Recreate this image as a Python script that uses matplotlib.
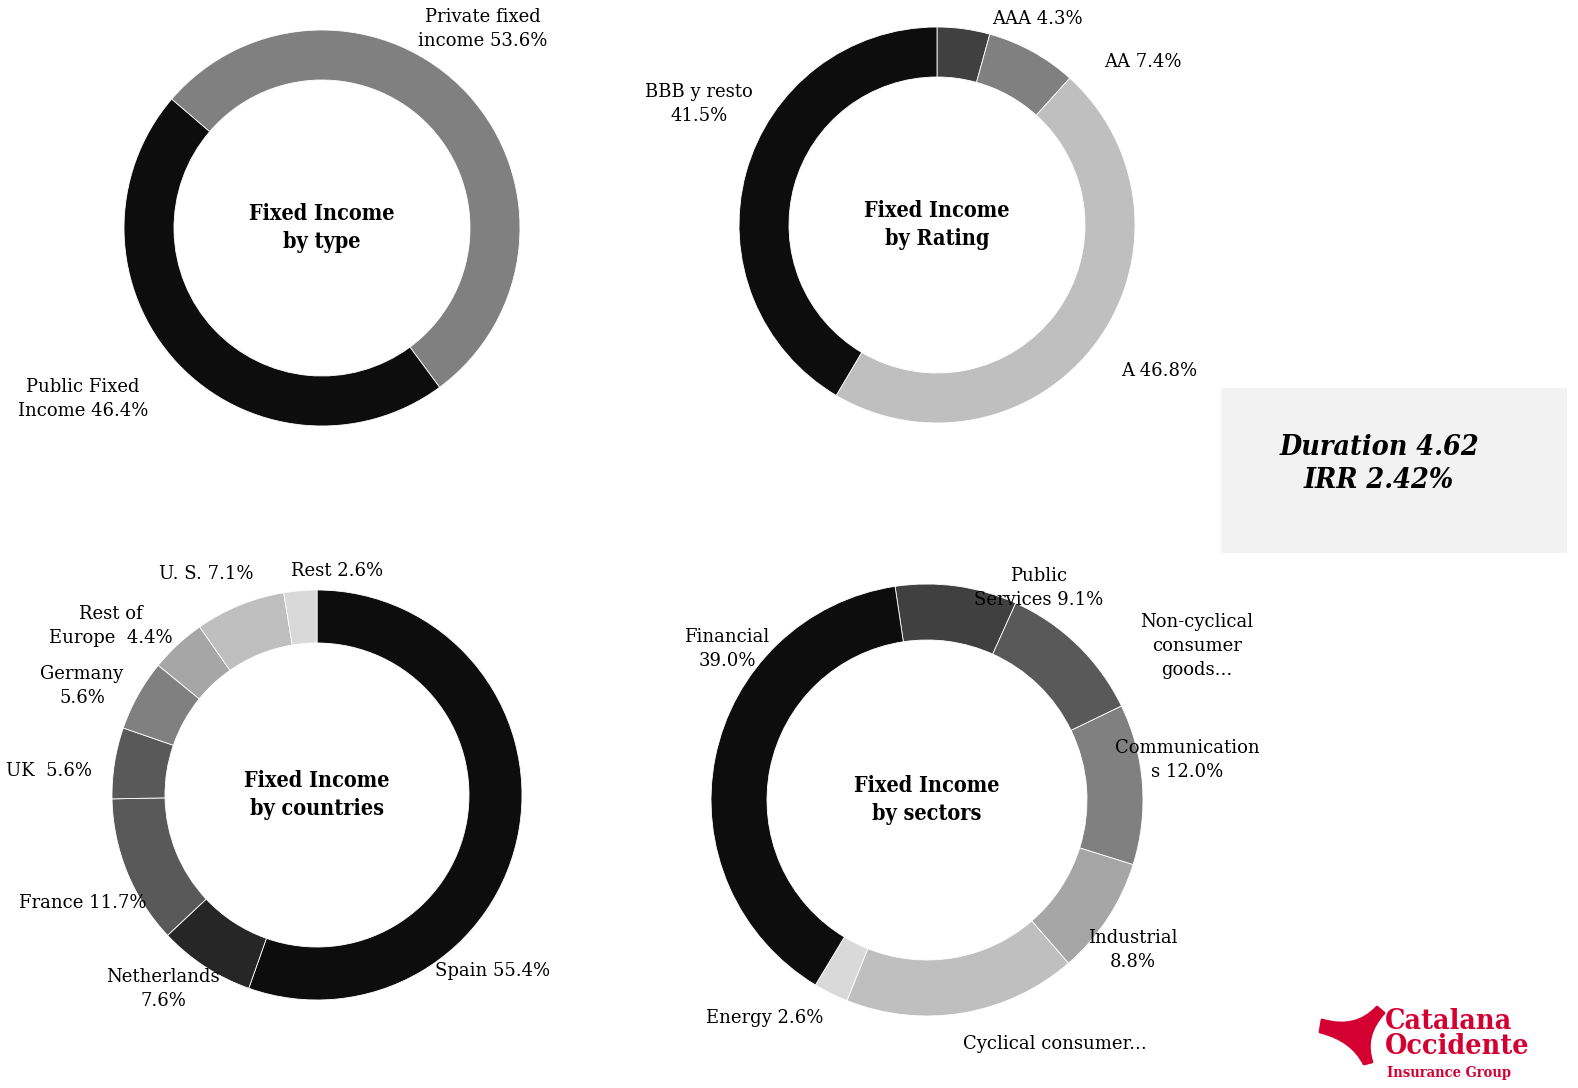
import matplotlib
matplotlib.use("Agg")
import matplotlib.pyplot as plt
from matplotlib.path import Path
from matplotlib.patches import PathPatch, Rectangle

# --- data -------------------------------------------------------------
type_labels = ["Private fixed\nincome 53.6%", "Public Fixed\nIncome 46.4%"]
type_values = [53.6, 46.4]
type_colors = ["#808080", "#0d0d0d"]

rating_labels = ["AAA 4.3%", "AA 7.4%", "A 46.8%", "BBB y resto\n41.5%"]
rating_values = [4.3, 7.4, 46.8, 41.5]
rating_colors = ["#404040", "#808080", "#bfbfbf", "#0d0d0d"]

country_labels = ["Spain 55.4%", "Netherlands\n7.6%", "France 11.7%", "UK  5.6%",
                  "Germany\n5.6%", "Rest of\nEurope  4.4%", "U. S. 7.1%", "Rest 2.6%"]
country_values = [55.4, 7.6, 11.7, 5.6, 5.6, 4.4, 7.1, 2.6]
country_colors = ["#0d0d0d", "#262626", "#595959", "#595959",
                  "#808080", "#a6a6a6", "#bfbfbf", "#d9d9d9"]

sector_labels = ["Public\nServices 9.1%", "Non-cyclical\nconsumer\ngoods...",
                 "Communication\ns 12.0%", "Industrial\n8.8%", "Cyclical consumer...",
                 "Energy 2.6%", "Financial\n39.0%"]
sector_values = [9.1, 11.1, 12.0, 8.8, 17.4, 2.6, 39.0]
sector_colors = ["#404040", "#595959", "#808080", "#a6a6a6", "#bfbfbf",
                 "#d9d9d9", "#0d0d0d"]

duration = 4.62
irr = 2.42

# --- layout (pixel coords, y from top) ---------------------------------
W, H = 1578, 1088
def Y(y):
    return H - y

serif = "DejaVu Serif"
red = "#d50032"

fig = plt.figure(figsize=(W / 100, H / 100), dpi=100)
ax = fig.add_axes([0, 0, 1, 1])

def donut(values, colors, cx, cy, r, w, start, title, labels, label_pos):
    ax.pie(values, colors=colors, startangle=start, counterclock=False,
           radius=r, center=(cx, Y(cy)),
           wedgeprops=dict(width=w, edgecolor="white", linewidth=0.6))
    ax.text(cx, Y(cy), title, ha="center", va="center", family=serif,
            fontstretch="condensed", fontweight="bold", fontsize=15.5,
            linespacing=1.3)
    for lab, (x, y) in zip(labels, label_pos):
        ax.text(x, Y(y), lab, ha="center", va="center", family=serif,
                fontsize=13, linespacing=1.45)

donut(type_values, type_colors, 322, 228, 198, 50, 139.4,
      "Fixed Income\nby type", type_labels,
      [(483, 29), (83, 399)])

donut(rating_values, rating_colors, 937, 225, 198, 50, 90,
      "Fixed Income\nby Rating", rating_labels,
      [(1037, 19), (1143, 62), (1159, 371), (699, 104)])

donut(country_values, country_colors, 317, 795, 205, 53, 90,
      "Fixed Income\nby countries", country_labels,
      [(493, 971), (163, 989), (83, 903), (49, 771),
       (82, 686), (111, 626), (206, 574), (337, 571)])

donut(sector_values, sector_colors, 927, 800, 216, 56, 98.5,
      "Fixed Income\nby sectors", sector_labels,
      [(1039, 588), (1197, 646), (1187, 760), (1133, 950),
       (1055, 1044), (765, 1018), (727, 649)])

# duration / IRR box
ax.add_patch(Rectangle((1221, Y(553)), 346, 165, facecolor="#f2f2f2",
                       edgecolor="none"))
ax.text(1379, Y(464), "Duration %.2f\nIRR %.2f%%" % (duration, irr),
        ha="center", va="center", family=serif, fontstretch="condensed",
        fontweight="bold", style="italic", fontsize=20.5, linespacing=1.3)

# logo
pts = [(1322, 1020), (1356, 1030), (1377, 1007), (1384, 1013),
       (1363, 1036), (1372, 1062), (1364, 1064), (1352, 1040),
       (1320, 1032), (1322, 1020)]
codes = [Path.MOVETO, Path.CURVE3, Path.CURVE3, Path.LINETO,
         Path.CURVE3, Path.CURVE3, Path.LINETO, Path.CURVE3,
         Path.CURVE3, Path.CLOSEPOLY]
ax.add_patch(PathPatch(Path([(x, Y(y)) for x, y in pts], codes),
                       facecolor=red, edgecolor=red, linewidth=2,
                       joinstyle="round"))
ax.text(1385, Y(1034), "Catalana\nOccidente", ha="left", va="center",
        family=serif, fontstretch="condensed", fontweight="bold",
        fontsize=20.5, color=red, linespacing=0.95)
ax.text(1387, Y(1073), "Insurance Group", ha="left", va="center",
        family=serif, fontstretch="condensed", fontweight="bold",
        fontsize=10.5, color=red)

ax.set_xlim(0, W)
ax.set_ylim(0, H)
ax.set_aspect("equal")
ax.axis("off")

fig.savefig("out.png", dpi=100, facecolor="white")
